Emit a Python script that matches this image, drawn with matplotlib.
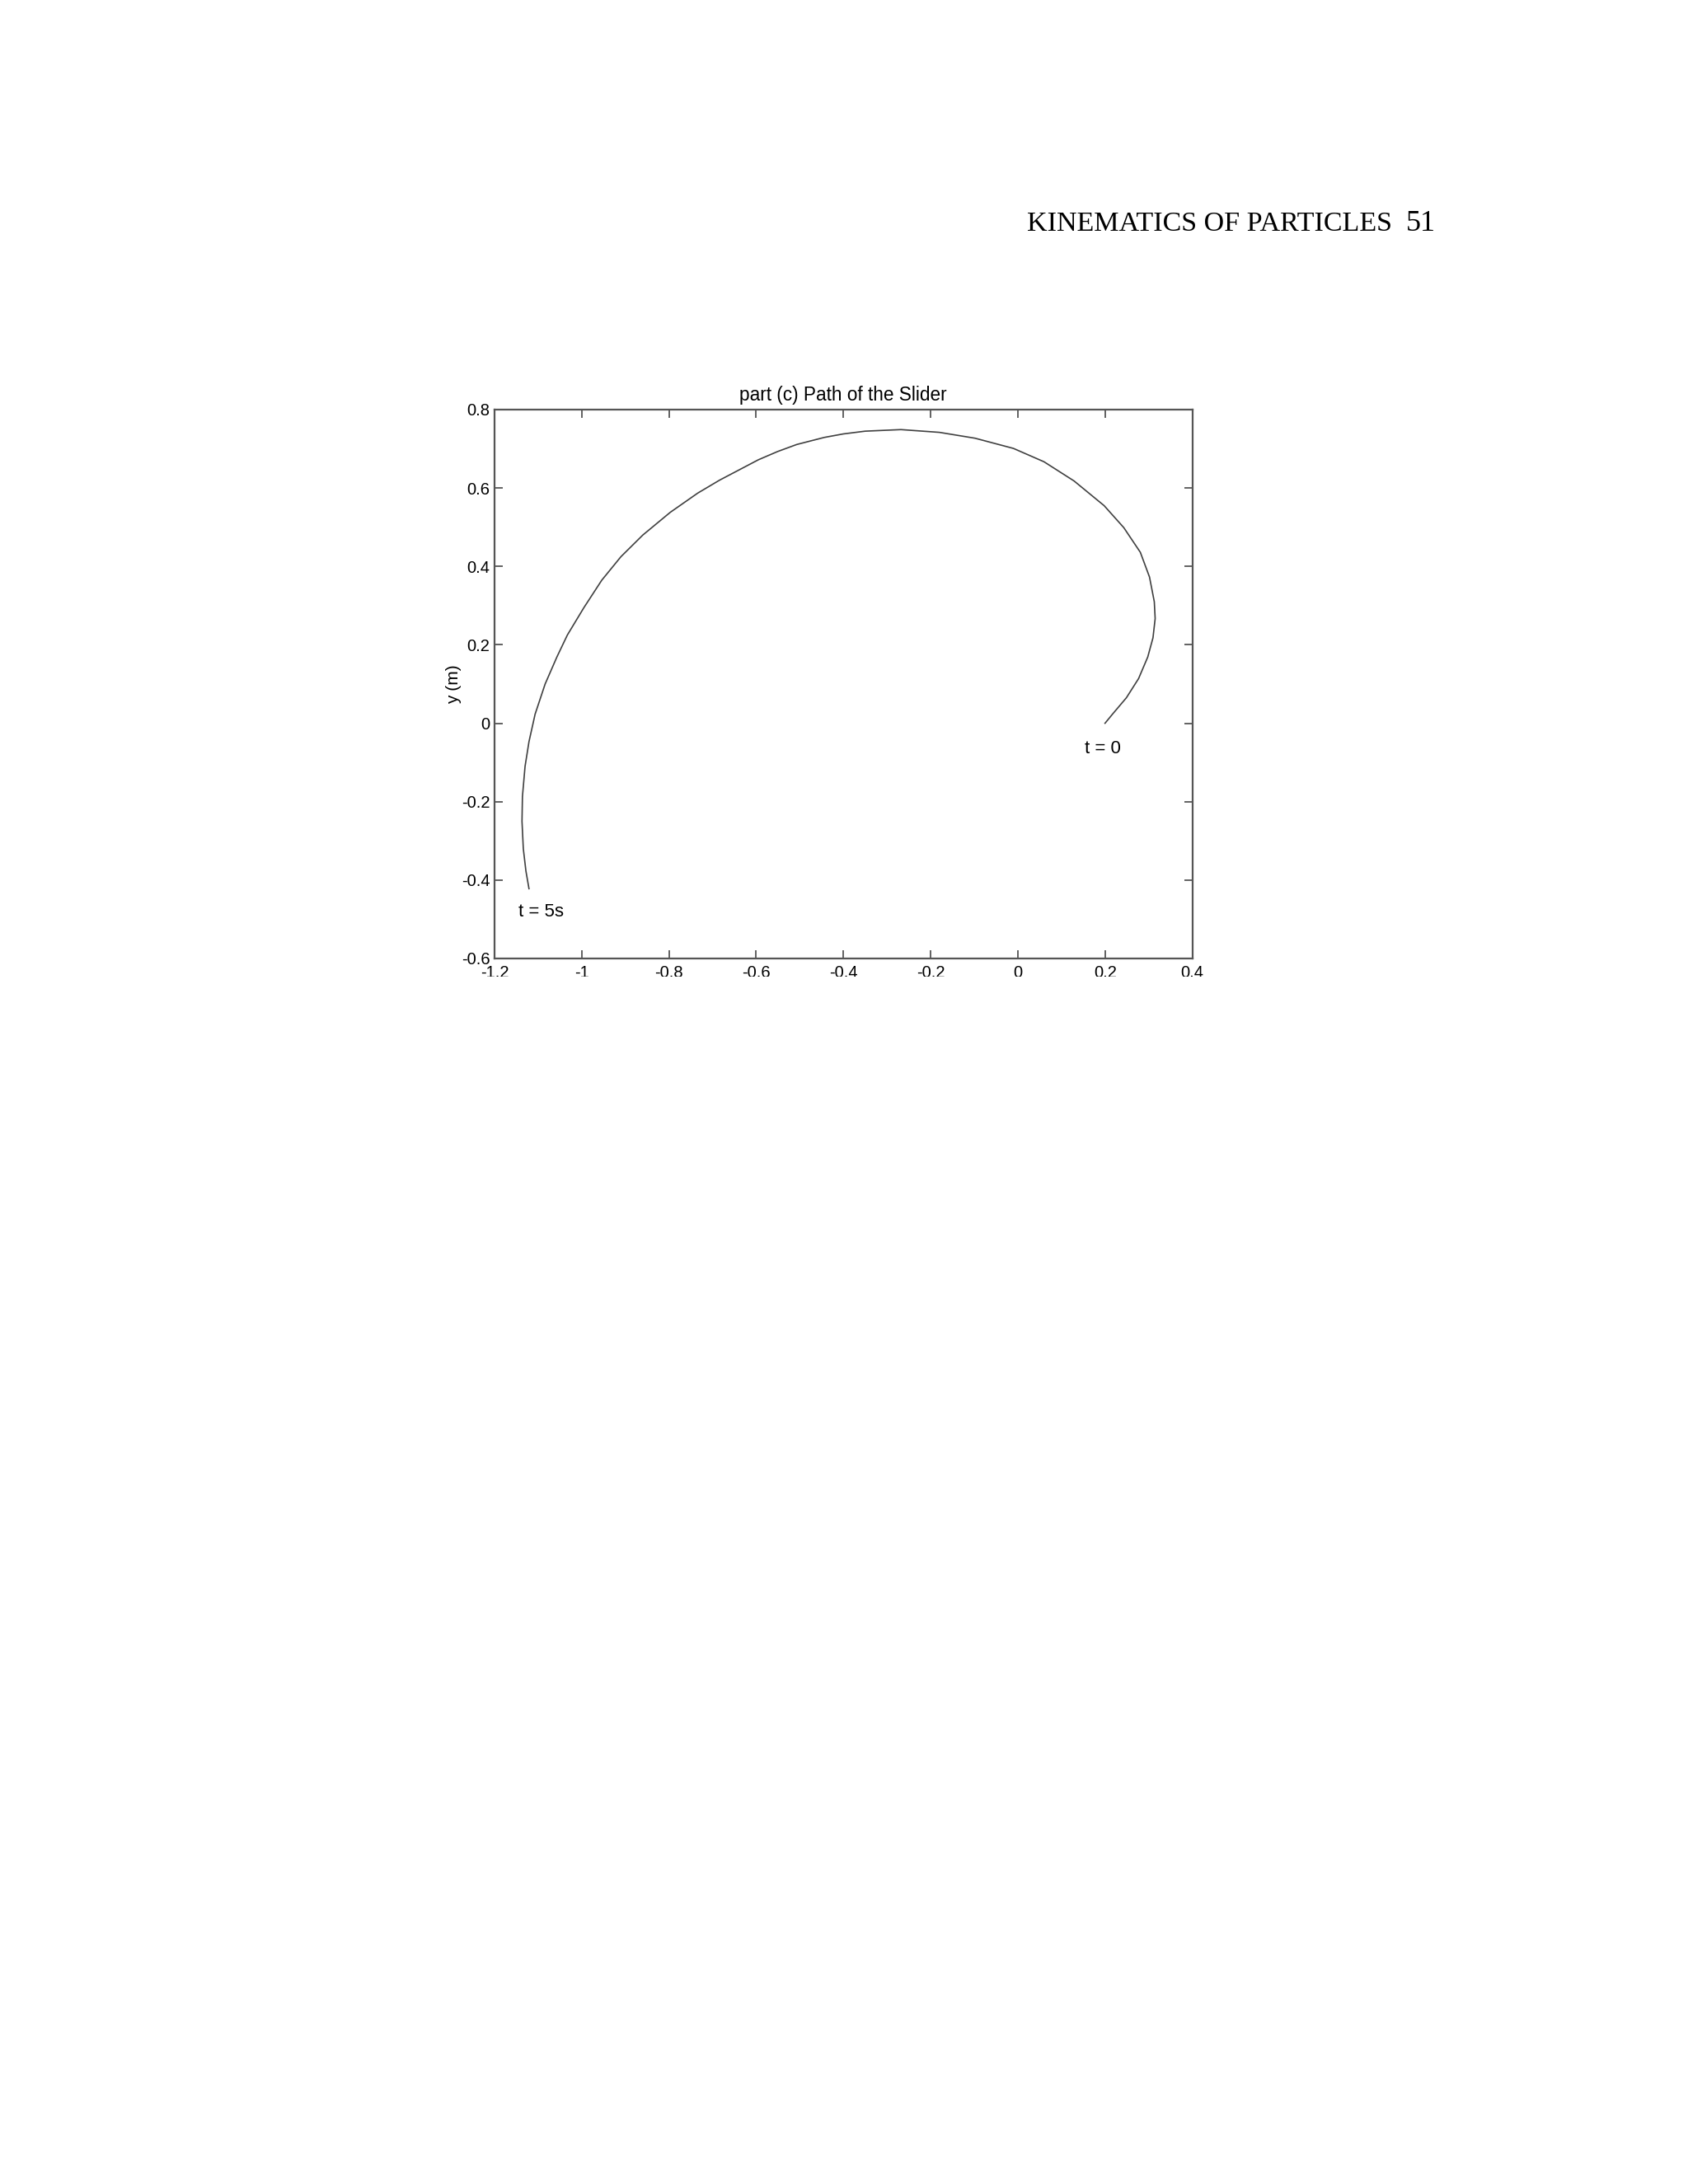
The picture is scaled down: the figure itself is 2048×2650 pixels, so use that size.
import matplotlib
matplotlib.use("Agg")
import matplotlib.pyplot as plt
from matplotlib.patches import Rectangle

plt.rcParams['font.family'] = ['Liberation Sans', 'DejaVu Sans']

# path of the slider (t = 0 ... t = 5 s)
x_path = [0.200, 0.217, 0.249, 0.277, 0.298, 0.310, 0.315, 0.313, 0.302, 0.281,
          0.243, 0.198, 0.129, 0.060, -0.010, -0.098, -0.180, -0.268, -0.350, -0.400,
          -0.444, -0.507, -0.551, -0.595, -0.684, -0.734, -0.797, -0.860, -0.910, -0.954,
          -0.995, -1.033, -1.057, -1.084, -1.107, -1.121, -1.130, -1.136, -1.137, -1.134,
          -1.128, -1.121]
y_path = [0.000, 0.023, 0.065, 0.114, 0.169, 0.218, 0.267, 0.310, 0.373, 0.436,
          0.499, 0.555, 0.618, 0.667, 0.701, 0.727, 0.742, 0.749, 0.745, 0.738,
          0.729, 0.711, 0.693, 0.672, 0.620, 0.587, 0.538, 0.480, 0.425, 0.365,
          0.295, 0.225, 0.169, 0.100, 0.023, -0.047, -0.110, -0.187, -0.250, -0.320,
          -0.377, -0.422]

xticks = [-1.2, -1.0, -0.8, -0.6, -0.4, -0.2, 0.0, 0.2, 0.4]
xtick_labels = ['-1.2', '-1', '-0.8', '-0.6', '-0.4', '-0.2', '0', '0.2', '0.4']
yticks = [-0.6, -0.4, -0.2, 0.0, 0.2, 0.4, 0.6, 0.8]
ytick_labels = ['-0.6', '-0.4', '-0.2', '0', '0.2', '0.4', '0.6', '0.8']

# end point labels
start_label = ('t = 0', 0.195, -0.065)
end_label = ('t = 5s', -1.093, -0.482)

fig = plt.figure(figsize=(20.48, 26.5), dpi=100)
fig.patch.set_facecolor('white')

# page header
fig.text(1246 / 2048, 1 - 280 / 2650, 'KINEMATICS OF PARTICLES', family='Liberation Serif',
         fontsize=24.5, ha='left', va='baseline')
fig.text(1742 / 2048, 1 - 280 / 2650, '51', family='Liberation Serif',
         fontsize=26, ha='right', va='baseline')

ax = fig.add_axes([600 / 2048, 1 - 1163 / 2650, 846.5 / 2048, 666 / 2650])
ax.plot(x_path, y_path, color='#404040', lw=1.2)

for txt, tx, ty in (start_label, end_label):
    ax.text(tx, ty, txt, fontsize=16, ha='center', va='center')

ax.set_xlim(-1.2, 0.4)
ax.set_ylim(-0.6, 0.8)
ax.set_xticks(xticks)
ax.set_xticklabels(xtick_labels)
ax.set_yticks(yticks)
ax.set_yticklabels(ytick_labels)
ax.tick_params(axis='both', direction='in', top=True, right=True, length=7,
               width=1.3, color='#555555', labelsize=14.5)
ax.tick_params(axis='x', pad=6)
ax.tick_params(axis='y', pad=4)
for sp in ax.spines.values():
    sp.set_color('#555555')
    sp.set_linewidth(1.6)

ax.set_title('part (c) Path of the Slider', fontsize=16.3, pad=8)
ax.set_ylabel('y (m)', fontsize=15)
ax.yaxis.set_label_coords(-0.047, 0.5)

# the printed figure is cut off through the x tick labels
fig.add_artist(Rectangle((0, 0), 1, 1 - 1185 / 2650, transform=fig.transFigure,
                         facecolor='white', edgecolor='none', zorder=10))

fig.savefig('out.png', dpi=100, facecolor='white')
